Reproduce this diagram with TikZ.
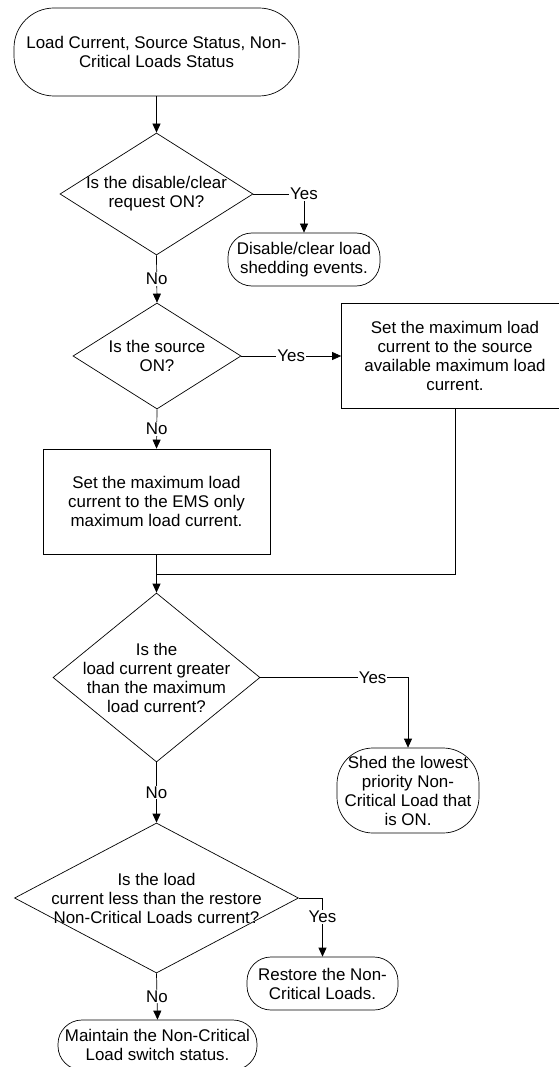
\documentclass[tikz,border=0pt]{standalone}
\usepackage{fontspec}
\setmainfont{Liberation Sans}
\usetikzlibrary{shapes.geometric,arrows.meta}
\begin{document}
\begin{tikzpicture}[x=1pt,y=1pt,line width=.7pt,
  every node/.style={font=\fontsize{16.9}{19}\selectfont},
  terminal/.style={draw,rounded corners=#1,align=center,inner sep=1pt},
  terminal/.default=24pt,
  process/.style={draw,align=center,minimum width=227pt,minimum height=105pt},
  decision/.style={draw,diamond,inner sep=0pt},
  qtext/.style={align=center},
  lbl/.style={fill=white,inner sep=1pt},
  arr/.style={-{Triangle[length=9pt,width=8pt]}}]
\useasboundingbox (0,0) rectangle (558,-1067);

\node [terminal=40pt,minimum width=285pt,minimum height=88pt] (start) at (156.5,-52) {Load Current, Source Status, Non-\\Critical Loads Status};
\node [decision,minimum width=193pt,minimum height=122pt,label={[qtext]center:Is the disable/clear\\request ON?}] (clr) at (156.5,-194) {};
\node [terminal,minimum width=152pt,minimum height=53pt] (clrdone) at (304,-259.5) {Disable/clear load\\shedding events.};

\node [decision,minimum width=168pt,minimum height=106pt,label={[qtext]center:Is the source\\ON?}] (src) at (157,-356) {};
\node [process] (setsrc) at (455,-356) {Set the maximum load\\current to the source\\available maximum load\\current.};
\node [process] (setems) at (156.5,-501.5) {Set the maximum load\\current to the EMS only\\maximum load current.};
\coordinate (merge) at (156.5,-574);

\node [decision,minimum width=207pt,minimum height=169pt,label={[qtext]center:Is the\\load current greater\\than the maximum\\load current?}] (over) at (156.5,-677.5) {};
\node [terminal=36pt,minimum width=142pt,minimum height=85pt] (shed) at (408,-790.5) {Shed the lowest\\priority Non-\\Critical Load that\\is ON.};

\node [decision,minimum width=284pt,minimum height=150pt,label={[qtext]center:Is the load\\current less than the restore\\Non-Critical Loads current?}] (under) at (156.5,-898) {};
\node [terminal,minimum width=151pt,minimum height=53pt] (restore) at (322.5,-983.5) {Restore the Non-\\Critical Loads.};
\node [terminal,minimum width=199pt,minimum height=50pt] (keep) at (157.5,-1045) {Maintain the Non-Critical\\Load switch status.};

\draw [arr] (start.south) -- (clr.north);
\draw [arr] (clr.east) -| node [lbl,pos=.5] {Yes} (clrdone.north);
\draw [arr] (clr.south) -- node [lbl] {No} (src.north);
\draw [arr] (src.east) -- node [lbl] {Yes} (setsrc.west);
\draw [arr] (src.south) -- node [lbl] {No} (setems.north);
\draw (setems.south) -- (merge);
\draw (setsrc.south) |- (merge);
\draw [arr] (merge) -- (over.north);
\draw [arr] (over.east) -| node [lbl,pos=.38] {Yes} (shed.north);
\draw [arr] (over.south) -- node [lbl] {No} (under.north);
\draw [arr] (under.east) -| node [lbl,pos=.66] {Yes} (restore.north);
\draw [arr] (under.south) -- node [lbl] {No} (keep.north);
\end{tikzpicture}
\end{document}
